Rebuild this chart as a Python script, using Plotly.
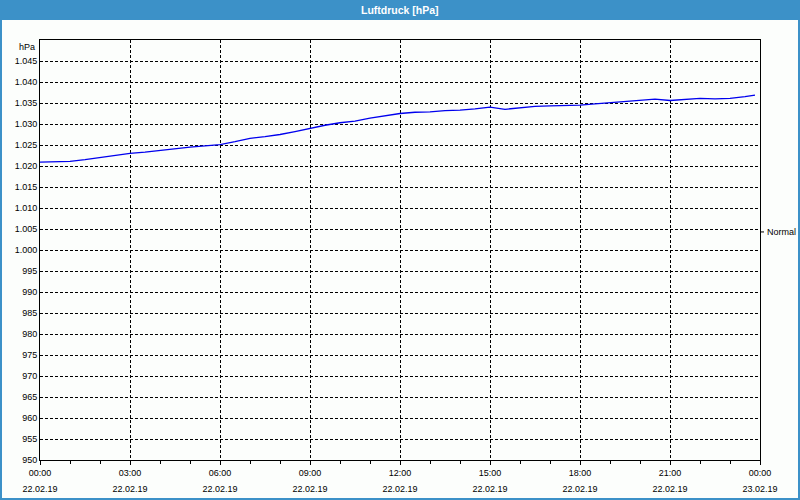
import plotly.graph_objects as go
import pandas as pd

# ---- data ----
times = ["00:00","00:30","01:00","01:30","02:00","02:30","03:00","03:30","04:00","04:30",
         "05:00","05:30","06:00","06:30","07:00","07:30","08:00","08:30","09:00","09:30",
         "10:00","10:30","11:00","11:30","12:00","12:30","13:00","13:30","14:00","14:30",
         "15:00","15:30","16:00","16:30","17:00","17:30","18:00","18:30","19:00","19:30",
         "20:00","20:30","21:00","21:30","22:00","22:30","23:00","23:30","23:50"]
pressure = [1020.9,1021.0,1021.1,1021.5,1022.0,1022.6,1023.0,1023.3,1023.7,1024.2,
            1024.5,1024.8,1025.1,1025.8,1026.6,1027.0,1027.5,1028.2,1029.0,1029.7,
            1030.3,1030.7,1031.4,1032.0,1032.5,1032.8,1032.9,1033.2,1033.3,1033.6,
            1034.0,1033.5,1033.8,1034.2,1034.3,1034.4,1034.5,1034.8,1035.1,1035.3,
            1035.6,1035.9,1035.6,1035.8,1036.1,1036.0,1036.1,1036.5,1036.9]
day = "2019-02-22"
tick_hours = [0, 3, 6, 9, 12, 15, 18, 21, 24]
tick_times = ["00:00","03:00","06:00","09:00","12:00","15:00","18:00","21:00","00:00"]
tick_dates = ["22.02.19"]*8 + ["23.02.19"]
y_ticks = list(range(950, 1050, 5))
normal_level = 1004.3

title = "Luftdruck [hPa]"
unit = "hPa"

# ---- figure ----
x = [pd.Timestamp(f"{day} {t}") for t in times]
start = pd.Timestamp(day)
tickvals = [start + pd.Timedelta(hours=h) for h in tick_hours]
end = tickvals[-1]

BLUE = "#3c91c8"
FONT = "Liberation Sans"
W, H = 800, 500
L, R, T, B = 40, 40, 40, 40
pw, ph = W - L - R, H - T - B

def px(xp):
    return (xp - L) / pw

def py(yp):
    return (H - B - yp) / ph

fig = go.Figure()
fig.add_trace(go.Scatter(x=x, y=pressure, mode="lines",
                         line=dict(color="#0000ee", width=1.3),
                         hoverinfo="skip", showlegend=False))
# invisible trace for the date axis
fig.add_trace(go.Scatter(x=[start, end], y=[950, 950], xaxis="x2", mode="lines",
                         line=dict(width=0), opacity=0, hoverinfo="skip", showlegend=False))

grid_common = dict(showgrid=True, gridcolor="black", gridwidth=1, griddash="3px,2px",
                   showline=True, linecolor="black", linewidth=1, mirror=True,
                   zeroline=False, automargin=False)

fig.update_layout(
    width=W, height=H,
    margin=dict(l=L, r=R, t=T, b=B, autoexpand=False),
    paper_bgcolor="#fcfefc",
    plot_bgcolor="#fcfefc",
    font=dict(family=FONT, size=9, color="black"),
    separators=",.",
    xaxis=dict(range=[start, end], tickmode="array", tickvals=tickvals, ticktext=tick_times,
               ticks="outside", ticklen=4, tickcolor="black",
               minor=dict(dtick=3600000, tick0=day, ticks="outside", ticklen=3,
                          tickcolor="black", showgrid=False),
               **grid_common),
    xaxis2=dict(overlaying="x", side="bottom", anchor="y", range=[start, end],
                tickmode="array", tickvals=tickvals, ticktext=tick_dates,
                showgrid=False, showline=False, zeroline=False, ticks="",
                ticklabelstandoff=22, automargin=False),
    yaxis=dict(range=[950, 1050], tickmode="array", tickvals=y_ticks, tickformat=",d",
               ticks="", **grid_common),
)

shapes = [
    dict(type="rect", xref="paper", yref="paper", x0=px(0), x1=px(W), y0=py(0), y1=py(20),
         fillcolor=BLUE, line=dict(width=0), layer="below"),
    dict(type="line", xref="paper", yref="paper", x0=px(1), x1=px(1), y0=py(20), y1=py(500),
         line=dict(color=BLUE, width=2)),
    dict(type="line", xref="paper", yref="paper", x0=px(799), x1=px(799), y0=py(20), y1=py(500),
         line=dict(color=BLUE, width=2)),
    dict(type="line", xref="paper", yref="paper", x0=px(0), x1=px(800), y0=py(499), y1=py(499),
         line=dict(color=BLUE, width=2)),
    dict(type="line", xref="paper", yref="y", x0=1.0, x1=px(764), y0=normal_level, y1=normal_level,
         line=dict(color="black", width=1)),
]
fig.update_layout(shapes=shapes)

fig.add_annotation(text=title, xref="paper", yref="paper", x=px(400), y=py(10),
                   showarrow=False, font=dict(family=FONT, size=10.5, color="white", weight="bold"),
                   xanchor="center", yanchor="middle")
fig.add_annotation(text=unit, xref="paper", yref="y", x=px(37), y=1050,
                   showarrow=False, xanchor="right", yanchor="top", yshift=0)
fig.add_annotation(text="Normal", xref="paper", yref="y", x=px(765), y=normal_level,
                   showarrow=False, xanchor="left", yanchor="middle")

fig.write_html("out.html")
